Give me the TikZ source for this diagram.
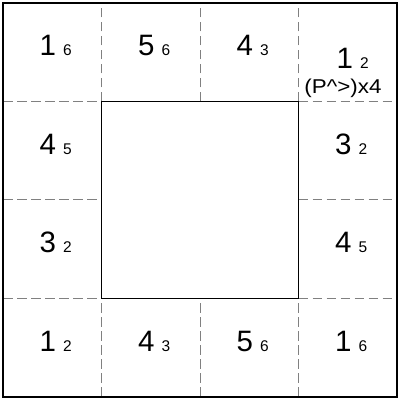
\documentclass[tikz,border=0pt]{standalone}
\usepackage{fontspec}
\setmainfont{Liberation Sans}
\usepackage{tikz}
\definecolor{gridgray}{RGB}{128,128,128}
\newcommand{\cellnum}[2]{{\fontsize{29.5}{29.5}\selectfont #1}\hspace{7pt}{\fontsize{15.5}{15.5}\selectfont #2}}

\begin{document}
\begin{tikzpicture}[x=98.5pt, y=98.5pt,
    num/.style={anchor=base, inner sep=0pt, xshift=3.5pt, yshift=-3.5pt},
    sep/.style={draw=gridgray, line width=1pt, dash pattern=on 9.5pt off 4.5pt}]
  \useasboundingbox (-3pt,-3pt) rectangle (397pt,397pt);

  % dashed cell borders of the outer ring
  \foreach \x in {1,2,3} {
    \draw[sep] (\x,3) -- (\x,4); \draw[sep] (\x,0) -- (\x,1);
  }
  \foreach \y in {1,2,3} {
    \draw[sep] (0,\y) -- (1,\y); \draw[sep] (3,\y) -- (4,\y);
  }
  \draw[line width=1.1pt] (0,0) rectangle (4,4);
  \draw[line width=1.1pt] (1,1) rectangle (3,3);

  % top row
  \node[num] (tl) at (0.5,3.5) {\cellnum{1}{6}}; \node[num] (t2) at (1.5,3.5) {\cellnum{5}{6}};
  \node[num] (t3) at (2.5,3.5) {\cellnum{4}{3}};
  \node[num, xshift=1.5pt, yshift=-12.75pt] (tr) at (3.5,3.5) {\cellnum{1}{2}};
  \node[anchor=base, inner sep=0pt, xshift=-4.7pt, yshift=-41.75pt] (tag) at (3.5,3.5)
    {\scalebox{1.12}[1]{\fontsize{20}{20}\selectfont (P\^{}>)x4}};

  % side columns
  \node[num] (l2) at (0.5,2.5) {\cellnum{4}{5}}; \node[num] (r2) at (3.5,2.5) {\cellnum{3}{2}};
  \node[num] (l3) at (0.5,1.5) {\cellnum{3}{2}}; \node[num] (r3) at (3.5,1.5) {\cellnum{4}{5}};

  % bottom row
  \node[num] (bl) at (0.5,0.5) {\cellnum{1}{2}}; \node[num] (b2) at (1.5,0.5) {\cellnum{4}{3}};
  \node[num] (b3) at (2.5,0.5) {\cellnum{5}{6}}; \node[num] (br) at (3.5,0.5) {\cellnum{1}{6}};
\end{tikzpicture}
\end{document}
